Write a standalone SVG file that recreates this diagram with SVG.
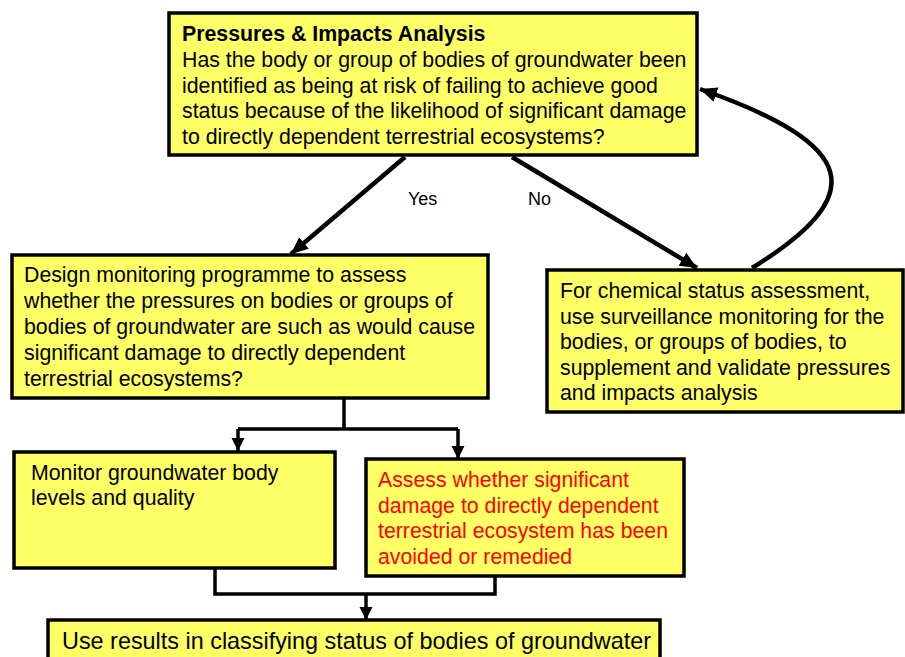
<svg xmlns="http://www.w3.org/2000/svg" width="905" height="657" viewBox="0 0 905 657">
<style>
.box{fill:#FFFF66;stroke:#000;stroke-width:3.5}
.t{font-family:"Liberation Sans",Arial,sans-serif;font-size:21.3px;fill:#000}
.b{font-weight:bold}
.red{fill:#FF0000}
.big{font-size:23.4px}
.lbl{font-family:"Liberation Sans",Arial,sans-serif;font-size:18px;fill:#000}
.c{fill:none;stroke:#000;stroke-width:4.5}
.c2{fill:none;stroke:#000;stroke-width:3.5}
</style>
<defs>
<marker id="ah" markerUnits="userSpaceOnUse" markerWidth="20" markerHeight="20" viewBox="0 0 20 20" refX="17" refY="10" orient="auto">
<path d="M0,2.5 L17,10 L0,17.5 Z" fill="#000"/>
</marker>
<marker id="ah2" markerUnits="userSpaceOnUse" markerWidth="16" markerHeight="16" viewBox="0 0 16 16" refX="13" refY="8" orient="auto">
<path d="M0,1.5 L13,8 L0,14.5 Z" fill="#000"/>
</marker>
</defs>
<g id="connectors">
<path class="c" d="M405,157 L291,254" marker-end="url(#ah)"/>
<path class="c" d="M512,157 L697,268" marker-end="url(#ah)"/>
<path class="c" d="M752,268 C870,195 860,145 700,89" marker-end="url(#ah)"/>
<path class="c2" d="M344,398 L344,429 M238,429 L458,429"/>
<path class="c2" d="M238,429 L238,451" marker-end="url(#ah2)"/>
<path class="c2" d="M458,429 L458,459" marker-end="url(#ah2)"/>
<path class="c2" d="M215,568 L215,594 L495,594 L495,576"/>
<path class="c2" d="M366,594 L366,620" marker-end="url(#ah2)"/>
<text class="lbl" x="408" y="205">Yes</text>
<text class="lbl" x="528" y="205">No</text>
</g>
<g id="pressures">
<rect class="box" x="169" y="13" width="528" height="142"/>
<text class="t b" x="182" y="41">Pressures &amp; Impacts Analysis</text>
<text class="t" x="182" y="67">Has the body or group of bodies of groundwater been</text>
<text class="t" x="182" y="93">identified as being at risk of failing to achieve good</text>
<text class="t" x="182" y="118">status because of the likelihood of significant damage</text>
<text class="t" x="182" y="144">to directly dependent terrestrial ecosystems?</text>
</g>
<g id="design">
<rect class="box" x="12" y="255" width="476" height="143"/>
<text class="t" x="24" y="282">Design monitoring programme to assess</text>
<text class="t" x="24" y="308">whether the pressures on bodies or groups of</text>
<text class="t" x="24" y="334">bodies of groundwater are such as would cause</text>
<text class="t" x="24" y="360">significant damage to directly dependent</text>
<text class="t" x="24" y="386">terrestrial ecosystems?</text>
</g>
<g id="chemical">
<rect class="box" x="547" y="270" width="356" height="142"/>
<text class="t" x="560" y="298">For chemical status assessment,</text>
<text class="t" x="560" y="324">use surveillance monitoring for the</text>
<text class="t" x="560" y="349">bodies, or groups of bodies, to</text>
<text class="t" x="560" y="375">supplement and validate pressures</text>
<text class="t" x="560" y="400">and impacts analysis</text>
</g>
<g id="monitor">
<rect class="box" x="14" y="452" width="321" height="116"/>
<text class="t" x="31" y="480">Monitor groundwater body</text>
<text class="t" x="31" y="505">levels and quality</text>
</g>
<g id="assess">
<rect class="box" x="366" y="459" width="318" height="117"/>
<text class="t red" x="378" y="487">Assess whether significant</text>
<text class="t red" x="378" y="513">damage to directly dependent</text>
<text class="t red" x="378" y="538">terrestrial ecosystem has been</text>
<text class="t red" x="378" y="564">avoided or remedied</text>
</g>
<g id="results">
<rect class="box" x="48" y="620" width="612" height="45"/>
<text class="t big" x="62" y="649">Use results in classifying status of bodies of groundwater</text>
</g>
</svg>
